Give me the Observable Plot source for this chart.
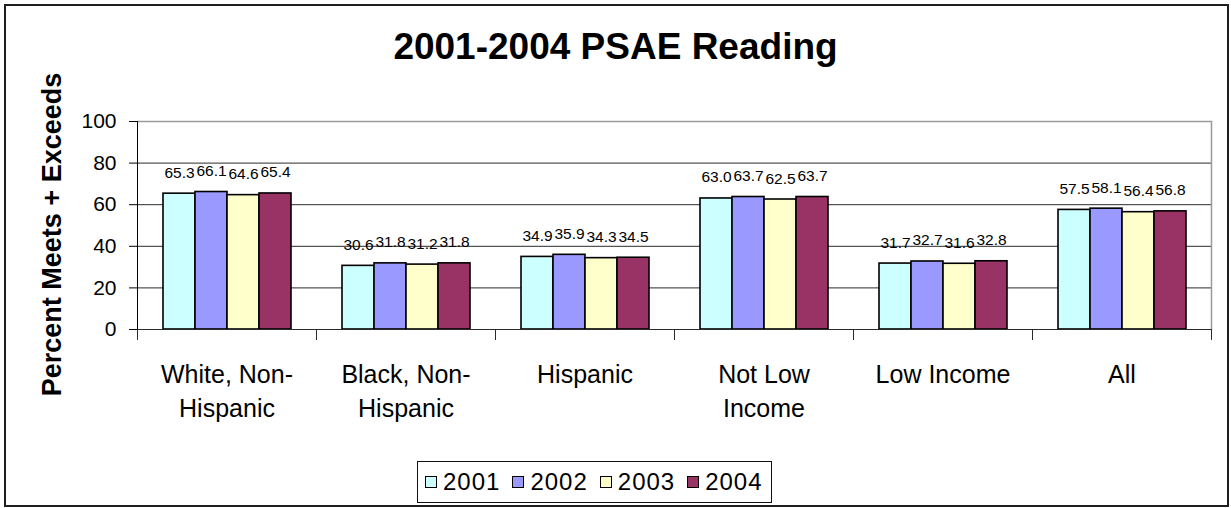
<!DOCTYPE html>
<html>
<head>
<meta charset="utf-8">
<script src="https://cdn.jsdelivr.net/npm/d3@7"></script>
<script src="https://cdn.jsdelivr.net/npm/@observablehq/plot@0.6"></script>
<style>
  body { margin: 0; background: #fff; font-family: "Liberation Sans", Arial, sans-serif; }
  #chart { position: relative; width: 1231px; height: 508px; overflow: hidden; background: #fff; }
  #border { position: absolute; left: 4px; top: 4px; width: 1221px; height: 499px; border: 2px solid #1e1e1e; pointer-events: none; }
  #title { position: absolute; left: 0; top: 28px; width: 1231px; text-align: center; font-weight: bold; font-size: 37px; line-height: 37px; color: #000; }
  #ylabel { position: absolute; left: 52px; top: 234px; width: 400px; height: 27px; margin-left: -200px; margin-top: -13.5px;
            transform: rotate(-90deg); text-align: center; font-weight: bold; font-size: 27px; line-height: 27px; white-space: nowrap; }
  #plot { position: absolute; left: 0; top: 0; }
  #legend { position: absolute; left: 417px; top: 461px; width: 355px; height: 42px; box-sizing: border-box;
            border: 1px solid #111; display: flex; align-items: center; padding-left: 7px; gap: 12px; }
  .item { display: flex; align-items: center; font-size: 24px; letter-spacing: 1px; line-height: 24px; }
  .swatch { width: 12px; height: 12px; box-sizing: border-box; border: 1.5px solid #000; margin-right: 6px; }
</style>
</head>
<body>
<div id="chart">
  <div id="title">2001-2004 PSAE Reading</div>
  <div id="ylabel">Percent Meets + Exceeds</div>
  <div id="plot"></div>
  <div id="legend"></div>
  <div id="border"></div>
</div>
<script>
// Student groups and their two-line axis labels
const categories = ["White, Non-Hispanic", "Black, Non-Hispanic", "Hispanic", "Not Low Income", "Low Income", "All"];
const categoryLabels = ["White, Non-\nHispanic", "Black, Non-\nHispanic", "Hispanic", "Not Low\nIncome", "Low Income", "All"];

// Test years and their bar colours
const years = ["2001", "2002", "2003", "2004"];
const yearColors = ["#ccffff", "#9999ff", "#ffffcc", "#993366"];

// Percent meeting or exceeding standards, one array per year (in category order)
const pct2001 = [65.3, 30.6, 34.9, 63.0, 31.7, 57.5];
const pct2002 = [66.1, 31.8, 35.9, 63.7, 32.7, 58.1];
const pct2003 = [64.6, 31.2, 34.3, 62.5, 31.6, 56.4];
const pct2004 = [65.4, 31.8, 34.5, 63.7, 32.8, 56.8];

// Y axis ticks
const yTicks = [0, 20, 40, 60, 80, 100];

const series = [pct2001, pct2002, pct2003, pct2004];
const rows = [];
categories.forEach((category, i) => {
  years.forEach((year, j) => rows.push({category, year, value: series[j][i]}));
});

const labelOf = new Map(categories.map((c, i) => [c, categoryLabels[i]]));

// A short vertical stroke hanging below the category axis at facet edges
const downTick = {
  draw(context, l) { context.moveTo(0, 0); context.lineTo(0, -l); }
};

const chart = Plot.plot({
  width: 1231,
  height: 440,
  marginTop: 121,
  marginLeft: 136,
  marginRight: 20,
  marginBottom: 111,
  style: { fontFamily: "'Liberation Sans', Arial, sans-serif", background: "transparent", color: "#000", overflow: "visible" },
  fx: { domain: categories, padding: 0, label: null },
  x: { domain: years, paddingInner: 0, paddingOuter: 0.727, axis: null },
  y: { domain: [0, 100], label: null },
  color: { domain: years, range: yearColors },
  marks: [
    Plot.gridY([20, 40, 60, 80], { stroke: "#2a2a2a", strokeOpacity: 1 }),
    Plot.ruleY([100], { stroke: "#9a9a9a", strokeWidth: 1.5 }),
    Plot.frame({ anchor: "right", facetAnchor: "right", stroke: "#9a9a9a", strokeWidth: 1.5 }),
    Plot.barY(rows, { fx: "category", x: "year", y: "value", fill: "year", stroke: "#000", strokeWidth: 1.6, inset: 0 }),
    Plot.ruleY([0], { stroke: "#2a2a2a" }),
    Plot.frame({ anchor: "left", facetAnchor: "left", stroke: "#000" }),
    Plot.vector([0], { frameAnchor: "bottom-left", anchor: "start", rotate: 180, length: 10, shape: downTick, stroke: "#2a2a2a", strokeWidth: 1 }),
    Plot.vector([0], { frameAnchor: "bottom-right", anchor: "start", rotate: 180, length: 10, shape: downTick, stroke: "#2a2a2a", strokeWidth: 1 }),
    Plot.axisY({ ticks: yTicks, tickSize: 8, tickPadding: 13, fontSize: 21, label: null, tickFormat: d => String(d), stroke: "#000" }),
    Plot.axisFx({ anchor: "bottom", tickSize: 0, tickPadding: 29, fontSize: 25, lineHeight: 1.38, label: null,
                  tickFormat: d => labelOf.get(d), letterSpacing: 1 }),
    Plot.text(rows, { fx: "category", x: "year", y: "value", text: d => d.value.toFixed(1),
                      lineAnchor: "bottom", dy: -16, fontSize: 15.5, fill: "#000" })
  ]
});
document.getElementById("plot").appendChild(chart);

// Legend row
const legend = document.getElementById("legend");
years.forEach((year, i) => {
  const item = document.createElement("div");
  item.className = "item";
  const sw = document.createElement("div");
  sw.className = "swatch";
  sw.style.background = yearColors[i];
  item.appendChild(sw);
  item.appendChild(document.createTextNode(year));
  legend.appendChild(item);
});
</script>
</body>
</html>
